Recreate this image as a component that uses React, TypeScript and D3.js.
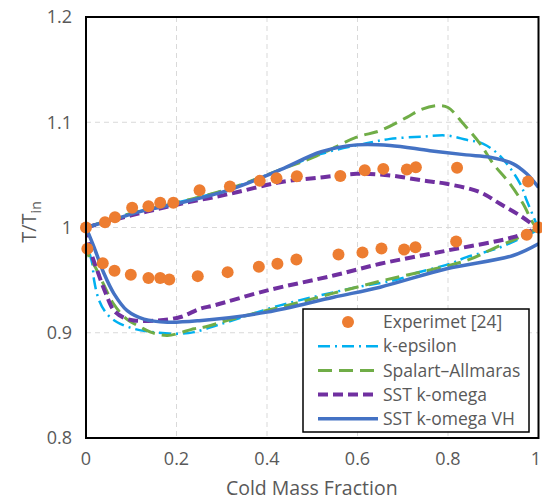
import React from "react";
import * as d3 from "d3";

type P = [number, number];

const xTicks = [0, 0.2, 0.4, 0.6, 0.8, 1];
const yTicks = [0.8, 0.9, 1.0, 1.1, 1.2];
const xTickLabels = ["0", "0.2", "0.4", "0.6", "0.8", "1"];
const yTickLabels = ["0.8", "0.9", "1", "1.1", "1.2"];

const experiment: P[] = [
  [0, 1.0], [0.042, 1.005], [0.064, 1.0098], [0.102, 1.0187], [0.138, 1.0202], [0.164, 1.0235],
  [0.193, 1.0235], [0.251, 1.0354], [0.318, 1.039], [0.384, 1.0443], [0.421, 1.0468], [0.466, 1.0487],
  [0.562, 1.049], [0.616, 1.0544], [0.657, 1.0557], [0.709, 1.055], [0.729, 1.0573], [0.82, 1.0567],
  [0.977, 1.0437], [1.0, 1.0],
  [0.003, 0.9798], [0.037, 0.966], [0.063, 0.959], [0.099, 0.955], [0.138, 0.952], [0.164, 0.952],
  [0.184, 0.9506], [0.247, 0.9538], [0.313, 0.9576], [0.382, 0.9627], [0.423, 0.9655], [0.465, 0.9696],
  [0.558, 0.9744], [0.611, 0.9763], [0.653, 0.98], [0.703, 0.979], [0.728, 0.9813], [0.818, 0.9867],
  [0.974, 0.993],
];

const kEpsilonUpper: P[] = [
  [0, 1.0], [0.1, 1.0135], [0.2, 1.0235], [0.318, 1.037], [0.43, 1.055], [0.52, 1.07], [0.62, 1.08],
  [0.672, 1.0842], [0.745, 1.0864], [0.797, 1.0874], [0.841, 1.0833], [0.878, 1.0795], [0.915, 1.068],
  [0.959, 1.042], [0.974, 1.0256], [0.997, 1.002],
];
const kEpsilonLower: P[] = [
  [0.008, 0.975], [0.014, 0.9655], [0.018, 0.9497], [0.029, 0.9307], [0.046, 0.918], [0.069, 0.91],
  [0.106, 0.9038], [0.15, 0.9005], [0.202, 0.899], [0.239, 0.9006], [0.296, 0.908], [0.429, 0.926],
  [0.583, 0.9418], [0.694, 0.9513], [0.723, 0.956], [0.804, 0.9655], [0.841, 0.9718], [0.908, 0.98],
  [0.974, 0.9924], [1.0, 0.998],
];

const saUpper: P[] = [
  [0, 1.0], [0.1, 1.0135], [0.2, 1.0235], [0.318, 1.037], [0.43, 1.055], [0.51, 1.068], [0.598, 1.0858],
  [0.65, 1.092], [0.709, 1.1047], [0.74, 1.112], [0.775, 1.1158], [0.8, 1.114], [0.834, 1.0985],
  [0.871, 1.0795], [0.9, 1.0605], [0.937, 1.0415], [0.966, 1.0225], [0.989, 1.0035], [0.997, 1.0],
];
const saLower: P[] = [
  [0, 0.985], [0.007, 0.9718], [0.021, 0.962], [0.04, 0.945], [0.06, 0.928], [0.09, 0.913],
  [0.121, 0.9053], [0.143, 0.9006], [0.18, 0.8974], [0.239, 0.9038], [0.26, 0.9053], [0.326, 0.9133],
  [0.473, 0.929], [0.547, 0.9376], [0.657, 0.9497], [0.841, 0.9687], [0.9, 0.98], [0.959, 0.991],
  [1.0, 1.0],
];

const sstUpper: P[] = [
  [0, 1.0], [0.1, 1.0115], [0.2, 1.0216], [0.318, 1.032], [0.429, 1.043], [0.524, 1.0478],
  [0.598, 1.051], [0.672, 1.0494], [0.745, 1.0446], [0.797, 1.0415], [0.871, 1.0335], [0.915, 1.0225],
  [0.959, 1.0114], [0.989, 1.002], [1.0, 0.998],
];
const sstLower: P[] = [
  [0, 1.0], [0.01, 0.978], [0.025, 0.959], [0.044, 0.937], [0.062, 0.921], [0.085, 0.914],
  [0.106, 0.9117], [0.158, 0.9117], [0.209, 0.915], [0.252, 0.9228], [0.283, 0.926], [0.399, 0.94],
  [0.547, 0.9544], [0.65, 0.9655], [0.797, 0.978], [0.944, 0.9908], [1.0, 1.0],
];

const sstVhUpper: P[] = [
  [0, 1.0], [0.06, 1.0075], [0.128, 1.016], [0.2, 1.0225], [0.318, 1.036], [0.43, 1.055], [0.52, 1.072],
  [0.598, 1.0785], [0.672, 1.078], [0.76, 1.073], [0.84, 1.069], [0.893, 1.0668], [0.944, 1.0605],
  [0.974, 1.051], [1.0, 1.038],
];
const sstVhLower: P[] = [
  [0, 1.0], [0.018, 0.981], [0.04, 0.956], [0.062, 0.937], [0.091, 0.921], [0.128, 0.913],
  [0.18, 0.91], [0.25, 0.9115], [0.4, 0.9196], [0.547, 0.9338], [0.65, 0.9433], [0.797, 0.9608],
  [0.944, 0.9734], [1.0, 0.9845],
];

const seriesNames = ["Experimet [24]", "k-epsilon", "Spalart\u2013Allmaras", "SST k-omega", "SST k-omega VH"];

const FONT = "'Open Sans', sans-serif";
const TEXT = "#595959";

const styles = [
  { color: "#00B0F0", width: 2.5, dash: "12,5,2,5" },
  { color: "#70AD47", width: 3, dash: "14,7" },
  { color: "#7030A0", width: 4, dash: "10,5" },
  { color: "#4472C4", width: 3.5, dash: "" },
];

export default function App() {
  const W = 542, H = 500;
  const x0 = 86, x1 = 538.5, y0 = 17, y1 = 438;
  const x = d3.scaleLinear().domain([0, 1]).range([x0, x1]);
  const y = d3.scaleLinear().domain([0.8, 1.2]).range([y1, y0]);
  const line = d3.line<P>().x(d => x(d[0])).y(d => y(d[1])).curve(d3.curveCatmullRom.alpha(0.5));

  const models: [P[], P[]][] = [
    [kEpsilonUpper, kEpsilonLower],
    [saUpper, saLower],
    [sstUpper, sstLower],
    [sstVhUpper, sstVhLower],
  ];

  const legX = 303, legY = 309, legW = 226, legH = 123;
  const rowY = (i: number) => legY + 13 + i * 24.2;

  return (
    <svg width={W} height={H} style={{ position: "absolute", left: 0, top: 0, background: "#fff" }} fontFamily={FONT}>
      <defs>
        <clipPath id="plot">
          <rect x={x0} y={y0} width={x1 - x0} height={y1 - y0} />
        </clipPath>
      </defs>
      <rect x={0} y={0} width={W} height={H} fill="#fff" />
      {xTicks.slice(1, -1).map(t => (
        <line key={"gx" + t} x1={x(t)} x2={x(t)} y1={y0} y2={y1} stroke="#D9D9D9" strokeWidth={1} strokeDasharray="5,4" />
      ))}
      {yTicks.slice(1, -1).map(t => (
        <line key={"gy" + t} x1={x0} x2={x1} y1={y(t)} y2={y(t)} stroke="#D9D9D9" strokeWidth={1} strokeDasharray="5,4" />
      ))}
      <g clipPath="url(#plot)">
        {models.map((m, i) => (
          <g key={"m" + i}>
            {m.map((arr, j) => (
              <path key={j} d={line(arr) || ""} fill="none" stroke={styles[i].color} strokeWidth={styles[i].width}
                strokeDasharray={styles[i].dash || undefined} />
            ))}
          </g>
        ))}
      </g>
      {experiment.map((d, i) => (
        <circle key={"e" + i} cx={x(d[0])} cy={y(d[1])} r={6} fill="#ED7D31" />
      ))}
      <rect x={x0} y={y0} width={x1 - x0} height={y1 - y0} fill="none" stroke="#000" strokeWidth={2} />
      {xTicks.map((t, i) => {
        const last = i === xTicks.length - 1;
        return (
          <text key={"xt" + t} x={last ? 541 : x(t)} y={465} textAnchor={last ? "end" : "middle"} fontSize={18} fill={TEXT}>
            {xTickLabels[i]}
          </text>
        );
      })}
      {yTicks.map((t, i) => (
        <text key={"yt" + t} x={72} y={y(t)} dy="0.35em" textAnchor="end" fontSize={18} fill={TEXT}>{yTickLabels[i]}</text>
      ))}
      <text x={(x0 + x1) / 2 - 0.5} y={495} textAnchor="middle" fontSize={19.5} fill={TEXT}>Cold Mass Fraction</text>
      <text transform={`translate(36,${222}) rotate(-90)`} textAnchor="middle" fontSize={20} fill={TEXT}>
        T/T<tspan fontSize={14} dy={5}>in</tspan>
      </text>
      <rect x={legX} y={legY} width={legW} height={legH} fill="#fff" stroke="#000" strokeWidth={1.5} />
      <circle cx={348} cy={rowY(0)} r={6} fill="#ED7D31" />
      <text x={383} y={rowY(0)} dy="0.35em" fontSize={17.5} fill={TEXT}>{seriesNames[0]}</text>
      {styles.map((s, i) => (
        <g key={"l" + i}>
          <line x1={318} x2={378} y1={rowY(i + 1)} y2={rowY(i + 1)} stroke={s.color} strokeWidth={s.width}
            strokeDasharray={s.dash || undefined} />
          <text x={383} y={rowY(i + 1)} dy="0.35em" fontSize={17.5} fill={TEXT}>{seriesNames[i + 1]}</text>
        </g>
      ))}
    </svg>
  );
}
